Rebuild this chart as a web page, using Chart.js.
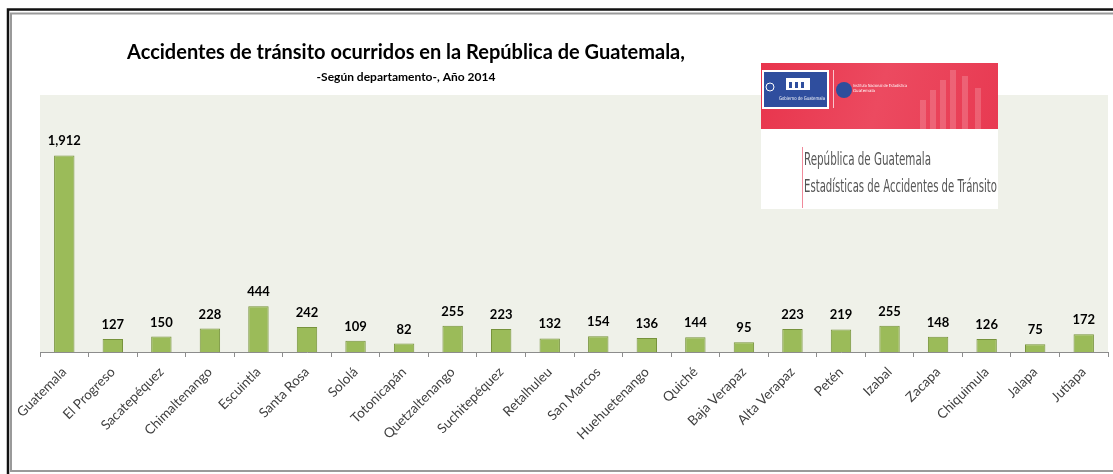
<!DOCTYPE html>
<html>
<head>
<meta charset="utf-8">
<script src="https://cdn.jsdelivr.net/npm/chart.js@4.4.1/dist/chart.umd.min.js"></script>
<style>
  html, body { margin: 0; padding: 0; background: #fff; }
  #wrap { width: 1113px; height: 474px; }
</style>
</head>
<body>
<div id="wrap"><canvas id="graficoDepartamentos" width="1113" height="474"></canvas></div>
<script>
const departamentos = [
  "Guatemala", "El Progreso", "Sacatepéquez", "Chimaltenango", "Escuintla", "Santa Rosa",
  "Sololá", "Totonicapán", "Quetzaltenango", "Suchitepéquez", "Retalhuleu", "San Marcos",
  "Huehuetenango", "Quiché", "Baja Verapaz", "Alta Verapaz", "Petén", "Izabal",
  "Zacapa", "Chiquimula", "Jalapa", "Jutiapa"
];
const accidentes = [
  1912, 127, 150, 228, 444, 242,
  109, 82, 255, 223, 132, 154,
  136, 144, 95, 223, 219, 255,
  148, 126, 75, 172
];
const titulo = "Accidentes de tránsito ocurridos en la República de Guatemala,";
const subtitulo = "-Según departamento-, Año 2014";
const logoLineas = ["República de Guatemala", "Estadísticas de Accidentes de Tránsito"];

// marco, fondo del area de trazado y titulos
const fondoPlugin = {
  id: "fondo",
  beforeDraw(chart) {
    const { ctx, chartArea: a } = chart;
    ctx.save();
    ctx.fillStyle = "#EFF1E9";
    ctx.fillRect(a.left, a.top, a.right - a.left, a.bottom - a.top);
    // marco doble
    ctx.strokeStyle = "#111";
    ctx.lineWidth = 2.5;
    ctx.strokeRect(8, 9.5, 1120, 480);
    ctx.lineWidth = 2;
    ctx.strokeStyle = "#9a9a9a";
    ctx.strokeRect(11, 13.5, 1120, 457.5);
    // titulos
    ctx.fillStyle = "#000";
    ctx.textAlign = "center";
    ctx.textBaseline = "alphabetic";
    ctx.font = "bold 20px Lato";
    ctx.fillText(titulo, 406, 59, 563);
    ctx.font = "bold 12px Lato";
    ctx.fillText(subtitulo, 406, 81, 194);
    ctx.restore();
  }
};

// imagen institucional (dibujada)
const logoPlugin = {
  id: "logo",
  afterDraw(chart) {
    const ctx = chart.ctx;
    const x = 761, y = 63, w = 237, h = 146;
    ctx.save();
    ctx.fillStyle = "#fff";
    ctx.fillRect(x, y, w, h);
    const g = ctx.createLinearGradient(x, y, x + w, y + 66);
    g.addColorStop(0, "#E8344C");
    g.addColorStop(0.5, "#EC4A60");
    g.addColorStop(1, "#E83A52");
    ctx.fillStyle = g;
    ctx.fillRect(x, y, w, 66);
    // barras decorativas
    ctx.fillStyle = "rgba(255,255,255,0.18)";
    [[920, 100, 6, 29], [930, 90, 6, 39], [940, 80, 6, 49], [950, 70, 6, 59], [962, 76, 6, 53], [975, 88, 6, 41]].forEach(r => ctx.fillRect(...r));
    // caja gobierno
    ctx.fillStyle = "#fff";
    ctx.fillRect(762, 70, 67, 39);
    ctx.fillStyle = "#2F4E9E";
    ctx.fillRect(764, 72, 63, 35);
    ctx.fillStyle = "#fff";
    ctx.font = "5px 'DejaVu Sans Condensed'";
    ctx.textAlign = "left";
    ctx.fillText("Gobierno de Guatemala", 779, 100, 46);
    ctx.fillRect(786, 78, 24, 12);
    ctx.fillStyle = "#2F4E9E";
    ctx.fillRect(789, 82, 3, 6); ctx.fillRect(795, 82, 3, 6); ctx.fillRect(801, 82, 3, 6);
    ctx.strokeStyle = "#fff";
    ctx.lineWidth = 1;
    ctx.beginPath(); ctx.arc(770, 87, 4, 0, Math.PI * 2); ctx.stroke();
    // separador y circulo INE
    ctx.strokeStyle = "rgba(255,255,255,0.7)";
    ctx.beginPath(); ctx.moveTo(833.5, 70); ctx.lineTo(833.5, 108); ctx.stroke();
    ctx.fillStyle = "#2D4E9C";
    ctx.beginPath(); ctx.arc(844, 90, 8, 0, Math.PI * 2); ctx.fill();
    ctx.fillStyle = "#fff";
    ctx.font = "4px 'DejaVu Sans'";
    ctx.fillText("Instituto Nacional de Estadística", 853, 87, 54);
    ctx.fillText("Guatemala", 853, 92);
    // texto inferior
    ctx.strokeStyle = "#F08A9A";
    ctx.beginPath(); ctx.moveTo(802.5, 147); ctx.lineTo(802.5, 208); ctx.stroke();
    ctx.fillStyle = "#555";
    ctx.font = "17px 'Liberation Sans Narrow', 'DejaVu Sans Condensed'";
    ctx.fillText(logoLineas[0], 804, 165, 127);
    ctx.fillText(logoLineas[1], 804, 192, 193);
    ctx.restore();
  }
};

// etiquetas de valor sobre cada barra
const valoresPlugin = {
  id: "valores",
  afterDatasetsDraw(chart) {
    const { ctx } = chart;
    const meta = chart.getDatasetMeta(0);
    ctx.save();
    ctx.fillStyle = "#000";
    ctx.font = "bold 13px Lato";
    ctx.textAlign = "center";
    ctx.textBaseline = "alphabetic";
    meta.data.forEach((bar, i) => {
      ctx.fillText(accidentes[i].toLocaleString("en-US"), bar.x, bar.y - 10);
    });
    ctx.restore();
  }
};

const ctxDep = document.getElementById("graficoDepartamentos").getContext("2d");
new Chart(ctxDep, {
  type: "bar",
  data: {
    labels: departamentos,
    datasets: [{
      label: "Accidentes",
      data: accidentes,
      backgroundColor: "#9BBB59",
      borderColor: "#77933C",
      borderWidth: 1,
      barPercentage: 0.42,
      categoryPercentage: 1
    }]
  },
  options: {
    responsive: false,
    animation: false,
    layout: { padding: { left: 40, right: 5, top: 95, bottom: 0 } },
    plugins: {
      legend: { display: false },
      tooltip: { enabled: false }
    },
    scales: {
      y: { display: false, min: 0, max: 2500 },
      x: {
        afterFit: scale => { scale.height = 122; },
        grid: { drawOnChartArea: false, drawTicks: true, tickLength: 5, color: "#8c8c8c", offset: true },
        border: { display: true, color: "#8c8c8c" },
        ticks: {
          maxRotation: 45,
          minRotation: 45,
          padding: 7,
          color: "#404040",
          font: { family: "Lato", size: 13.5 }
        }
      }
    }
  },
  plugins: [fondoPlugin, valoresPlugin, logoPlugin]
});
</script>
</body>
</html>
